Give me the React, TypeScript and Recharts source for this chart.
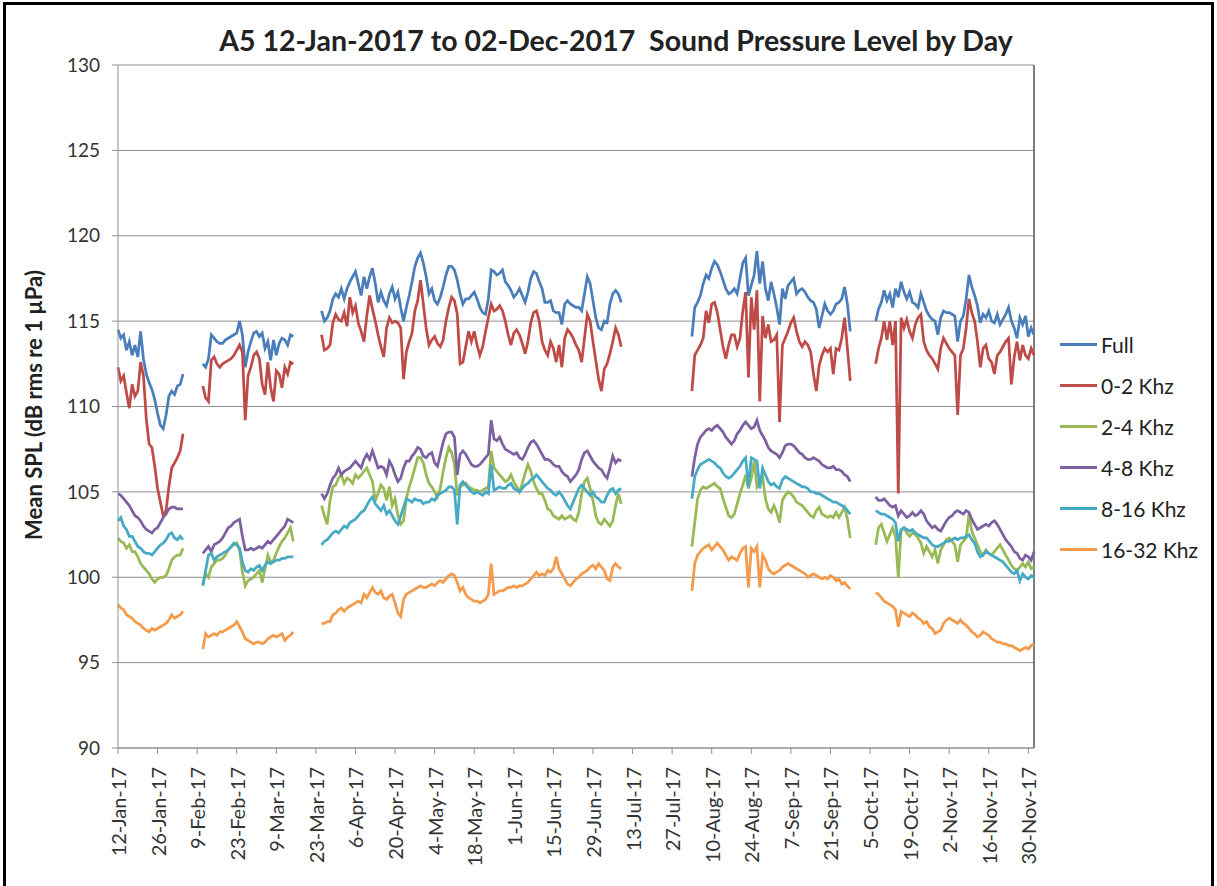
import { LineChart, Line, XAxis, YAxis, CartesianGrid, ReferenceLine } from "recharts";

// one point per day, 12-Jan-2017 .. 02-Dec-2017
const firstDay = { year: 2017, month: 0, day: 12 };
const dayCount = 325;
const monthNames = ["Jan", "Feb", "Mar", "Apr", "May", "Jun", "Jul", "Aug", "Sep", "Oct", "Nov", "Dec"];
const yTicks = [90, 95, 100, 105, 110, 115, 120, 125, 130];

// recording periods, as [first day index, last day index]
const periods: [number, number][] = [
  [0, 23],
  [30, 62],
  [72, 178],
  [203, 259],
  [268, 324],
];

// Mean SPL per day, one sub-array per recording period
const fullBand = [
  [114.5, 114.0, 114.2, 113.3, 113.8, 113.0, 113.6, 112.9, 114.4, 112.8, 111.9, 111.4, 111.0, 110.4, 109.6, 108.9, 108.7, 109.5, 110.6, 110.9, 110.7, 111.2, 111.3, 111.9],
  [112.5, 112.3, 112.8, 114.2, 114.0, 113.8, 113.7, 113.7, 113.9, 114.0, 114.1, 114.2, 114.3, 115.0, 114.2, 112.3, 113.2, 113.8, 114.3, 114.4, 114.1, 114.3, 113.4, 113.8, 112.7, 113.9, 113.0, 113.7, 114.0, 113.9, 113.6, 114.2, 114.1],
  [115.6, 115.0, 115.2, 115.6, 116.3, 116.6, 116.4, 116.9, 116.3, 116.9, 117.3, 117.6, 117.9, 117.2, 116.5, 117.6, 116.9, 117.6, 118.1, 117.2, 116.1, 116.7, 116.2, 115.9, 116.6, 117.0, 116.3, 116.7, 115.8, 115.0, 115.8, 116.5, 117.3, 118.2, 118.7,
   119.0, 118.4, 117.6, 116.6, 116.9, 116.2, 116.0, 116.4, 117.0, 117.7, 118.2, 118.2, 118.0, 117.4, 116.6, 116.0, 116.3, 116.3, 116.5, 116.7, 116.3, 115.8, 115.5, 115.4, 116.3, 118.0, 117.9, 117.7, 117.8, 118.0, 117.3, 117.1, 116.8, 116.4, 116.6, 116.9, 116.5, 116.1, 116.7, 117.5, 117.9, 117.8, 117.3, 116.9, 116.1, 116.1, 116.2, 115.6, 115.5,
   115.5, 114.8, 116.0, 116.2, 116.0, 115.9, 115.8, 115.8, 115.6, 116.6, 117.6, 117.2, 116.2, 115.2, 114.6, 114.5, 115.0, 114.9, 116.0, 116.6, 116.8, 116.6, 116.1],
  [114.1, 115.8, 116.1, 116.5, 117.2, 117.7, 117.5, 118.1, 118.5, 118.3, 117.9, 117.4, 116.9, 116.6, 116.7, 116.9, 116.6, 117.5, 118.4, 118.7, 116.5, 117.1, 117.7, 119.1, 117.2, 118.5, 116.9, 116.2, 117.3, 116.6, 115.8, 114.8, 116.9, 116.3, 117.1, 117.3, 117.5, 116.6, 116.8, 116.9, 116.7, 116.4, 116.2, 116.1, 115.7, 114.6, 115.3, 116.0, 115.6,
   115.4, 115.6, 116.0, 116.1, 116.3, 117.0, 116.0, 114.4],
  [115.0, 115.7, 116.1, 116.8, 116.2, 116.6, 115.8, 116.9, 116.4, 117.3, 116.7, 116.3, 116.7, 116.1, 116.0, 115.8, 116.6, 116.1, 115.6, 115.3, 115.1, 115.0, 114.2, 115.2, 115.6, 115.5, 115.5, 115.4, 115.3, 113.8,
   115.0, 115.3, 116.3, 117.7, 117.0, 116.5, 115.9, 114.9, 115.4, 115.2, 115.6, 115.0, 114.9, 115.4, 114.8, 115.1, 115.4, 115.8, 115.0, 114.6, 114.0, 115.2, 114.8, 115.3, 114.1, 114.6, 114.2],
];

const band0to2 = [
  [112.3, 111.5, 111.8, 110.8, 109.9, 111.3, 110.6, 110.9, 112.6, 111.8, 109.3, 107.8, 107.6, 106.5, 105.2, 104.4, 103.6, 103.9, 105.3, 106.4, 106.7, 107.0, 107.4, 108.4],
  [111.2, 110.5, 110.3, 112.7, 112.9, 112.5, 112.3, 112.5, 112.6, 112.7, 112.8, 113.0, 113.3, 113.6, 113.2, 109.2, 111.8, 112.3, 113.0, 113.2, 112.8, 111.3, 110.7, 112.6, 111.1, 110.3, 112.1, 111.9, 111.1, 112.3, 111.9, 112.6, 112.5],
  [114.2, 113.3, 113.4, 113.6, 114.9, 115.4, 115.1, 115.0, 115.5, 114.7, 116.4, 115.5, 115.9, 114.9, 114.4, 113.8, 115.3, 116.5, 115.7, 115.0, 114.2, 113.5, 112.9, 114.6, 115.2, 114.9, 115.0, 114.9, 114.6, 111.6, 113.2, 113.8, 114.3, 115.6, 116.2,
   117.4, 116.0, 114.6, 113.6, 113.9, 114.1, 113.7, 113.5, 113.9, 115.0, 115.8, 116.4, 116.2, 115.4, 112.5, 112.6, 113.5, 114.4, 113.8, 114.4, 113.6, 113.0, 113.5, 114.4, 115.2, 116.0, 115.6, 115.7, 115.9, 115.6, 115.0, 114.2, 113.6, 114.3, 114.5, 114.2, 113.7, 113.1, 113.8, 114.9, 115.5, 115.6, 115.0, 113.8, 113.3, 113.0, 113.8, 113.4, 112.6,
   113.6, 112.3, 114.0, 114.5, 114.3, 114.0, 113.6, 113.3, 112.6, 114.0, 115.4, 115.0, 113.8, 112.7, 111.6, 110.9, 112.2, 112.5, 113.1, 113.8, 114.6, 114.2, 113.5],
  [110.9, 113.0, 113.3, 113.6, 114.0, 115.6, 114.9, 116.0, 116.1, 115.5, 114.5, 113.5, 112.8, 113.6, 114.2, 114.2, 113.5, 114.0, 115.6, 116.7, 111.7, 116.4, 114.5, 116.8, 110.3, 115.3, 114.0, 114.8, 113.8, 113.9, 114.2, 109.1, 113.6, 114.0, 114.4, 114.9, 115.2, 114.4, 113.8, 113.5, 113.8, 113.6, 113.2, 111.9, 110.9, 112.4, 113.0, 113.4, 113.2,
   113.4, 111.9, 113.4, 113.3, 114.0, 115.2, 113.4, 111.5],
  [112.5, 113.4, 114.0, 115.0, 113.9, 115.0, 113.6, 115.0, 104.9, 115.2, 114.6, 115.1, 114.4, 114.0, 114.8, 115.2, 115.4, 113.8, 113.3, 113.0, 112.8, 112.5, 112.2, 113.4, 114.0, 113.7, 113.4, 113.2, 113.0, 109.5,
   113.0, 113.4, 114.6, 116.3, 115.5, 115.0, 113.8, 112.3, 113.4, 113.6, 112.8, 112.6, 111.9, 113.0, 113.2, 113.5, 113.8, 114.0, 111.3, 112.9, 113.8, 112.7, 113.6, 113.0, 112.8, 113.4, 113.0],
];

const band2to4 = [
  [102.3, 102.1, 102.0, 101.7, 101.9, 101.5, 101.5, 101.2, 100.8, 100.6, 100.4, 100.2, 99.9, 99.7, 99.9, 100.0, 100.0, 100.1, 100.5, 101.0, 101.2, 101.3, 101.3, 101.7],
  [99.6, 100.2, 100.0, 100.6, 100.8, 101.0, 101.0, 101.1, 101.3, 101.6, 101.8, 101.9, 102.0, 101.6, 100.3, 99.5, 99.8, 99.9, 100.0, 100.2, 100.4, 99.7, 100.5, 101.3, 100.9, 101.0, 101.4, 101.8, 102.1, 102.3, 102.6, 102.9, 102.1],
  [104.2, 103.6, 103.1, 104.5, 105.3, 105.4, 105.8, 106.0, 105.5, 105.8, 105.7, 105.5, 106.0, 105.8, 106.0, 106.2, 106.4, 106.0, 105.6, 104.5, 104.9, 105.4, 105.2, 104.5, 105.3, 104.2, 104.6, 103.6, 103.1, 103.3, 104.6, 105.3, 105.8, 106.4, 107.0,
   107.0, 106.7, 106.0, 105.5, 105.3, 105.0, 104.7, 105.2, 106.2, 107.0, 107.6, 107.3, 106.6, 104.8, 105.3, 105.4, 105.5, 105.3, 105.2, 105.1, 105.1, 105.0, 105.1, 105.2, 105.3, 107.4, 106.4, 106.2, 106.0, 105.8, 105.6, 105.7, 106.0, 105.6, 105.3, 105.0, 105.5, 106.1, 106.6, 106.2, 105.6, 105.2, 104.9, 104.9, 104.5, 104.0, 103.9, 103.6, 103.5,
   103.4, 103.6, 103.4, 103.5, 103.6, 103.4, 103.3, 103.8, 104.9, 105.6, 105.8, 105.2, 104.5, 103.6, 103.2, 103.1, 103.4, 103.2, 103.0, 103.3, 104.2, 104.9, 104.3],
  [101.8, 103.2, 104.6, 105.1, 105.3, 105.2, 105.3, 105.4, 105.5, 105.3, 105.2, 104.6, 104.1, 103.6, 103.5, 103.7, 104.3, 104.9, 105.4, 106.0, 105.2, 105.8, 106.8, 105.3, 105.6, 105.9, 104.6, 104.0, 103.8, 104.2, 103.8, 103.2, 104.5, 104.8, 105.0, 104.9, 104.7, 104.4, 104.3, 104.2, 104.0, 103.8, 103.6, 103.5, 103.9, 104.1, 103.7, 103.6, 103.5,
   103.6, 103.5, 103.8, 103.5, 103.8, 104.1, 103.4, 102.3],
  [101.9, 102.9, 103.1, 102.6, 102.1, 102.5, 102.9, 102.4, 100.0, 102.7, 102.9, 102.6, 102.4, 102.6, 102.5, 102.3, 102.0, 101.4, 101.8, 101.5, 101.2, 101.6, 100.8, 101.6, 101.9, 102.2, 102.3, 102.1, 101.9, 100.9,
   101.9, 102.1, 102.3, 103.7, 102.7, 102.3, 101.9, 101.5, 101.3, 101.6, 101.4, 101.3, 101.5, 101.7, 101.9, 101.6, 101.3, 101.0, 100.7, 100.5, 100.4, 100.6, 100.8, 100.6, 100.9, 100.5, 100.6],
];

const band4to8 = [
  [104.9, 104.8, 104.6, 104.4, 104.2, 103.9, 103.6, 103.5, 103.3, 103.0, 102.8, 102.7, 102.6, 102.8, 102.9, 103.2, 103.5, 103.7, 104.0, 104.1, 104.1, 104.0, 104.0, 104.0],
  [101.4, 101.6, 101.8, 101.5, 101.9, 102.0, 102.1, 102.3, 102.6, 102.9, 103.0, 103.2, 103.3, 103.4, 102.4, 101.6, 101.6, 101.7, 101.6, 101.7, 101.8, 101.7, 101.9, 102.1, 102.0, 102.2, 102.4, 102.6, 102.8, 103.0, 103.4, 103.3, 103.2],
  [104.9, 104.6, 104.9, 105.4, 105.8, 106.0, 106.4, 106.0, 106.2, 106.3, 106.4, 106.6, 106.8, 106.6, 106.4, 106.9, 107.2, 106.9, 107.4, 106.9, 106.4, 106.5, 106.4, 106.0, 106.8, 106.5, 106.0, 105.6, 105.8, 106.4, 106.8, 106.8, 107.1, 107.3, 107.6,
   107.5, 107.1, 107.0, 107.2, 107.3, 106.7, 106.5, 107.2, 107.9, 108.4, 108.5, 108.5, 108.2, 106.0, 107.2, 107.4, 107.2, 106.9, 106.6, 106.5, 106.5, 106.6, 106.8, 107.0, 107.2, 109.2, 108.1, 108.0, 108.2, 107.8, 107.5, 107.4, 107.3, 107.2, 107.3, 107.0, 106.9, 107.2, 107.6, 107.9, 108.0, 107.8, 107.5, 107.2, 106.9, 106.9, 106.8, 106.6, 106.5,
   106.5, 106.2, 106.0, 105.9, 105.6, 105.8, 106.0, 106.3, 106.9, 107.3, 107.4, 107.1, 106.8, 106.6, 106.4, 106.3, 106.0, 105.8, 106.4, 107.1, 106.7, 106.9, 106.8],
  [105.9, 107.0, 107.8, 108.2, 108.4, 108.6, 108.7, 108.6, 108.8, 108.9, 108.7, 108.5, 108.2, 108.0, 107.8, 108.0, 108.4, 108.6, 108.9, 109.1, 108.9, 108.7, 108.8, 109.2, 108.6, 108.3, 108.0, 107.6, 107.4, 107.3, 107.2, 107.0, 107.3, 107.7, 107.8, 107.8, 107.7, 107.5, 107.3, 107.2, 107.0, 106.9, 106.9, 107.0, 106.9, 106.8, 106.6, 106.5, 106.4,
   106.4, 106.5, 106.3, 106.3, 106.2, 106.0, 105.9, 105.6],
  [104.7, 104.5, 104.5, 104.6, 104.4, 104.2, 104.1, 104.2, 103.6, 103.9, 103.7, 103.5, 103.6, 103.8, 103.6, 103.7, 103.9, 103.7, 103.3, 103.1, 102.9, 103.0, 102.8, 102.7, 103.0, 103.3, 103.5, 103.6, 103.8, 103.9,
   103.8, 103.7, 103.9, 103.8, 103.4, 103.1, 102.8, 102.9, 103.0, 103.1, 103.0, 103.2, 103.3, 103.1, 102.8, 102.5, 102.2, 102.0, 101.8, 101.5, 101.4, 101.1, 101.0, 101.3, 101.2, 101.0, 101.5],
];

const band8to16 = [
  [103.3, 103.5, 103.0, 102.8, 102.4, 102.4, 102.1, 101.8, 101.7, 101.5, 101.4, 101.4, 101.3, 101.5, 101.7, 101.9, 102.0, 102.2, 102.5, 102.6, 102.3, 102.2, 102.4, 102.2],
  [99.5, 100.4, 101.3, 101.4, 101.0, 101.2, 101.3, 101.4, 101.5, 101.6, 101.8, 102.0, 101.9, 101.7, 100.9, 100.4, 100.3, 100.5, 100.4, 100.6, 100.7, 100.4, 100.7, 100.9, 100.8, 100.9, 101.0, 101.0, 101.1, 101.1, 101.2, 101.2, 101.2],
  [101.9, 102.1, 102.2, 102.4, 102.6, 102.7, 102.6, 102.8, 103.0, 102.9, 103.2, 103.3, 103.4, 103.6, 103.8, 103.9, 104.2, 104.5, 104.7, 104.3, 104.1, 103.9, 104.2, 103.7, 103.9, 103.6, 103.3, 103.1, 103.6, 104.1, 104.6, 104.5, 104.4, 104.6, 104.5,
   104.5, 104.3, 104.4, 104.4, 104.6, 104.5, 104.8, 104.9, 105.0, 105.1, 105.3, 105.3, 105.1, 103.1, 105.4, 105.6, 105.4, 105.2, 105.0, 104.9, 105.0, 104.9, 104.8, 105.0, 104.9, 106.6, 105.1, 105.2, 105.3, 105.2, 105.2, 105.4, 105.5, 105.2, 105.1, 105.0, 105.2, 105.4, 105.5, 105.7, 105.8, 106.0, 105.8, 105.6, 105.4, 105.2, 105.1, 104.9, 104.8,
   105.0, 104.8, 104.5, 104.2, 104.0, 104.4, 104.8, 105.2, 105.4, 105.2, 105.0, 104.8, 105.0, 104.7, 104.6, 104.4, 104.4, 104.8, 105.1, 105.2, 104.9, 105.1, 105.2],
  [104.6, 105.9, 106.3, 106.6, 106.7, 106.8, 106.9, 106.8, 106.7, 106.5, 106.4, 106.1, 105.9, 105.8, 105.9, 106.1, 106.3, 106.5, 106.8, 107.0, 105.3, 107.0, 106.9, 106.8, 105.2, 106.4, 106.0, 105.6, 105.4, 105.5, 105.3, 105.2, 105.7, 105.9, 105.8, 105.7, 105.6, 105.5, 105.4, 105.3, 105.3, 105.2, 105.0, 105.0, 104.9, 104.9, 104.8, 104.7, 104.6,
   104.5, 104.4, 104.4, 104.3, 104.2, 104.1, 103.9, 103.7],
  [103.9, 103.8, 103.7, 103.7, 103.6, 103.5, 103.4, 103.2, 102.1, 102.8, 102.9, 102.8, 102.7, 102.8, 102.6, 102.5, 102.4, 102.3, 102.3, 102.1, 101.9, 101.8, 101.8, 101.9, 102.0, 102.1, 102.1, 102.2, 102.3, 102.2,
   102.3, 102.3, 102.4, 102.5, 102.2, 102.0, 101.5, 101.2, 101.3, 101.5, 101.4, 101.3, 101.2, 101.1, 101.0, 100.9, 100.7, 100.5, 100.3, 100.2, 100.4, 99.8, 100.2, 100.0, 99.9, 100.1, 100.0],
];

const band16to32 = [
  [98.4, 98.2, 98.1, 97.8, 97.7, 97.6, 97.4, 97.3, 97.2, 97.0, 96.9, 96.8, 97.0, 96.9, 97.0, 97.1, 97.2, 97.3, 97.5, 97.8, 97.6, 97.7, 97.8, 98.0],
  [95.8, 96.7, 96.5, 96.6, 96.7, 96.6, 96.8, 96.8, 96.9, 97.0, 97.1, 97.2, 97.4, 97.1, 96.8, 96.4, 96.3, 96.2, 96.1, 96.2, 96.2, 96.1, 96.2, 96.4, 96.5, 96.6, 96.5, 96.6, 96.7, 96.3, 96.5, 96.6, 96.8],
  [97.3, 97.3, 97.4, 97.4, 97.8, 97.9, 98.1, 98.2, 98.0, 98.2, 98.3, 98.4, 98.5, 98.6, 98.5, 99.0, 98.8, 99.1, 99.4, 99.1, 99.0, 99.2, 98.8, 98.7, 98.9, 99.0, 98.5, 97.9, 97.7, 98.7, 99.0, 99.1, 99.2, 99.3, 99.4,
   99.5, 99.4, 99.4, 99.5, 99.6, 99.5, 99.7, 99.8, 99.7, 99.9, 100.1, 100.2, 100.1, 99.7, 99.2, 99.4, 99.0, 98.8, 98.7, 98.6, 98.6, 98.5, 98.6, 98.7, 99.0, 100.8, 99.0, 99.1, 99.2, 99.2, 99.3, 99.4, 99.4, 99.5, 99.4, 99.5, 99.5, 99.6, 99.7, 99.9, 100.1, 100.3, 100.1, 100.2, 100.1, 100.4, 100.3, 100.5, 101.2,
   100.5, 100.2, 99.9, 99.6, 99.5, 99.7, 99.9, 100.0, 100.2, 100.3, 100.4, 100.6, 100.7, 100.5, 100.8, 100.6, 100.4, 99.9, 99.8, 100.6, 100.8, 100.6, 100.5],
  [99.2, 100.8, 101.3, 101.5, 101.7, 101.8, 101.9, 101.6, 101.8, 102.0, 101.8, 101.6, 101.3, 101.0, 101.2, 101.1, 101.0, 101.4, 101.7, 101.8, 99.4, 101.7, 101.5, 101.8, 99.4, 101.3, 101.0, 100.5, 100.3, 100.2, 100.3, 100.4, 100.6, 100.7, 100.8, 100.7, 100.6, 100.5, 100.4, 100.3, 100.2, 100.0, 100.1, 100.2, 100.1, 100.0, 99.9, 100.0, 99.9,
   100.1, 100.0, 99.8, 99.9, 99.6, 99.7, 99.5, 99.3],
  [99.1, 99.0, 98.8, 98.6, 98.5, 98.4, 98.3, 98.1, 97.1, 98.0, 97.9, 97.8, 97.7, 97.9, 97.8, 97.6, 97.5, 97.3, 97.4, 97.1, 97.0, 96.7, 96.8, 96.9, 97.3, 97.5, 97.6, 97.5, 97.4, 97.3,
   97.5, 97.3, 97.2, 97.0, 96.8, 96.7, 96.5, 96.6, 96.8, 96.7, 96.6, 96.4, 96.3, 96.2, 96.2, 96.1, 96.1, 96.0, 96.0, 95.9, 95.8, 95.7, 95.8, 95.9, 95.8, 96.0, 96.1],
];

const seriesList = [
  { key: "full", name: "Full", color: "#4A7EBB", values: fullBand },
  { key: "b0_2", name: "0-2 Khz", color: "#BE4B48", values: band0to2 },
  { key: "b2_4", name: "2-4 Khz", color: "#98B954", values: band2to4 },
  { key: "b4_8", name: "4-8 Khz", color: "#7D60A0", values: band4to8 },
  { key: "b8_16", name: "8-16 Khz", color: "#46AAC5", values: band8to16 },
  { key: "b16_32", name: "16-32 Khz", color: "#F59A4B", values: band16to32 },
];

const dates: string[] = [];
for (let i = 0; i < dayCount; i++) {
  const d = new Date(Date.UTC(firstDay.year, firstDay.month, firstDay.day + i));
  dates.push(`${d.getUTCDate()}-${monthNames[d.getUTCMonth()]}-17`);
}

const rows = dates.map((date, i) => {
  const row: Record<string, string | number | null> = { date };
  seriesList.forEach((s) => {
    row[s.key] = null;
    periods.forEach(([a, b], p) => {
      if (i >= a && i <= b) row[s.key] = s.values[p][i - a];
    });
  });
  return row;
});

const font = "Lato, 'Noto Sans', sans-serif";

function DateTick(props: any) {
  const { x, y, payload } = props;
  return (
    <text
      x={x}
      y={y}
      transform={`rotate(-90, ${x}, ${y})`}
      textAnchor="end"
      dominantBaseline="central"
      fontFamily={font}
      fontSize={20}
      fill="#333"
    >
      {payload.value}
    </text>
  );
}

export default function App() {
  return (
    <div style={{ position: "absolute", left: 0, top: 0, width: 1217, height: 886, background: "#fff", overflow: "hidden" }}>
      <div
        style={{
          position: "absolute",
          left: 3,
          top: 2,
          width: 1205,
          height: 900,
          border: "3px solid #000",
          borderBottom: "none",
        }}
      />
      <div
        style={{
          position: "absolute",
          left: 0,
          width: 1232,
          top: 23,
          textAlign: "center",
          fontFamily: font,
          fontWeight: 700,
          fontSize: 28.5,
          color: "#222",
          whiteSpace: "pre",
        }}
      >
        {"A5 12-Jan-2017 to 02-Dec-2017  Sound Pressure Level by Day"}
      </div>
      <div
        style={{
          position: "absolute",
          left: 33,
          top: 405,
          transform: "translate(-50%, -50%) rotate(-90deg)",
          whiteSpace: "nowrap",
          fontFamily: font,
          fontWeight: 700,
          fontSize: 22,
          color: "#222",
        }}
      >
        Mean SPL (dB rms re 1 µPa)
      </div>

      <LineChart width={1217} height={886} data={rows} margin={{ top: 65, right: 183, bottom: 0, left: 58 }}>
        <CartesianGrid vertical={false} stroke="#8f8f8f" />
        <XAxis
          dataKey="date"
          interval={13}
          tick={<DateTick />}
          tickSize={6}
          tickMargin={13}
          height={138}
          axisLine={{ stroke: "#8f8f8f" }}
          tickLine={{ stroke: "#8f8f8f" }}
        />
        <YAxis
          domain={[90, 130]}
          ticks={yTicks}
          width={60}
          tickSize={6}
          tickMargin={12}
          axisLine={{ stroke: "#8f8f8f" }}
          tickLine={{ stroke: "#8f8f8f" }}
          tick={{ fontFamily: font, fontSize: 19, fill: "#333" }}
        />
        <ReferenceLine x={dates[dates.length - 1]} stroke="#555" strokeWidth={1.5} />
        {seriesList.map((s) => (
          <Line
            key={s.key}
            dataKey={s.key}
            name={s.name}
            stroke={s.color}
            strokeWidth={2.75}
            dot={false}
            activeDot={false}
            isAnimationActive={false}
          />
        ))}
      </LineChart>

      <div style={{ position: "absolute", left: 1060, top: 324 }}>
        {seriesList.map((s) => (
          <div key={s.key} style={{ display: "flex", alignItems: "center", height: 41 }}>
            <div style={{ width: 37, height: 3, background: s.color, marginRight: 4 }} />
            <span style={{ fontFamily: font, fontSize: 21, color: "#222" }}>{s.name}</span>
          </div>
        ))}
      </div>
    </div>
  );
}
